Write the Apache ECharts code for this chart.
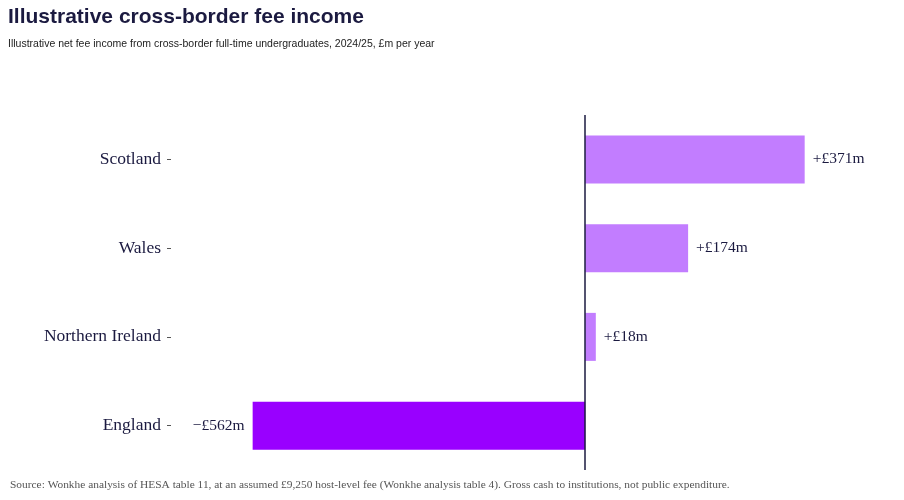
<!DOCTYPE html>
<html>
<head>
<meta charset="utf-8">
<script src="https://cdn.jsdelivr.net/npm/echarts@6/dist/echarts.min.js"></script>
<style>
  html, body { margin: 0; padding: 0; background: #fff; }
  #chart { width: 904px; height: 500px; }
</style>
</head>
<body>
<div id="chart"></div>
<script>
const nations = ["Scotland", "Wales", "Northern Ireland", "England"];
const netIncome = [371, 174, 18, -562];
const positiveColour = "#c27dff";
const negativeColour = "#9900ff";

const chart = echarts.init(document.getElementById("chart"));

function fmt(v) {
    return (v < 0 ? "\u2212" : "+") + "\u00a3" + Math.abs(v) + "m";
}

chart.setOption({
    animation: false,
    title: [{
        text: "Illustrative cross-border fee income",
        left: 8,
        top: 7,
        padding: 0,
        textStyle: {fontFamily: "Liberation Sans", fontSize: 21, fontWeight: "bold", color: "#1b1a40"}
    }, {
        text: "Illustrative net fee income from cross-border full-time undergraduates, 2024/25, \u00a3m per year",
        left: 8,
        top: 39,
        padding: 0,
        textStyle: {fontFamily: "Liberation Sans", fontSize: 10.5, fontWeight: "normal", color: "#222"}
    }, {
        text: "Source: Wonkhe analysis of HESA table 11, at an assumed \u00a39,250 host-level fee (Wonkhe analysis table 4). Gross cash to institutions, not public expenditure.",
        left: 10,
        top: 480,
        padding: 0,
        textStyle: {fontFamily: "Liberation Serif", fontSize: 11.4, fontWeight: "normal", color: "#555"}
    }],
    grid: {left: 171, right: 23, top: 115, bottom: 30},
    xAxis: {
        type: "value",
        min: -700,
        max: 500,
        show: false
    },
    yAxis: {
        type: "category",
        data: nations,
        inverse: true,
        axisLine: {show: false, onZero: false},
        axisTick: {show: true, length: 4, alignWithLabel: true, lineStyle: {color: "#555"}},
        axisLabel: {margin: 10, fontFamily: "Liberation Serif", fontSize: 17.5, color: "#1b1a40"}
    },
    series: [{
        type: "bar",
        barWidth: 48,
        data: netIncome.map(v => ({
            value: v,
            itemStyle: {color: v < 0 ? negativeColour : positiveColour},
            label: {position: v < 0 ? "left" : "right"}
        })),
        label: {
            show: true,
            distance: 8,
            fontFamily: "Liberation Serif",
            fontSize: 15.5,
            color: "#1b1a40",
            formatter: p => fmt(p.value)
        },
        markLine: {
            silent: true,
            symbol: "none",
            label: {show: false},
            lineStyle: {color: "#1b1a40", width: 1.5, type: "solid"},
            data: [{xAxis: 0}]
        }
    }]
});
</script>
</body>
</html>
